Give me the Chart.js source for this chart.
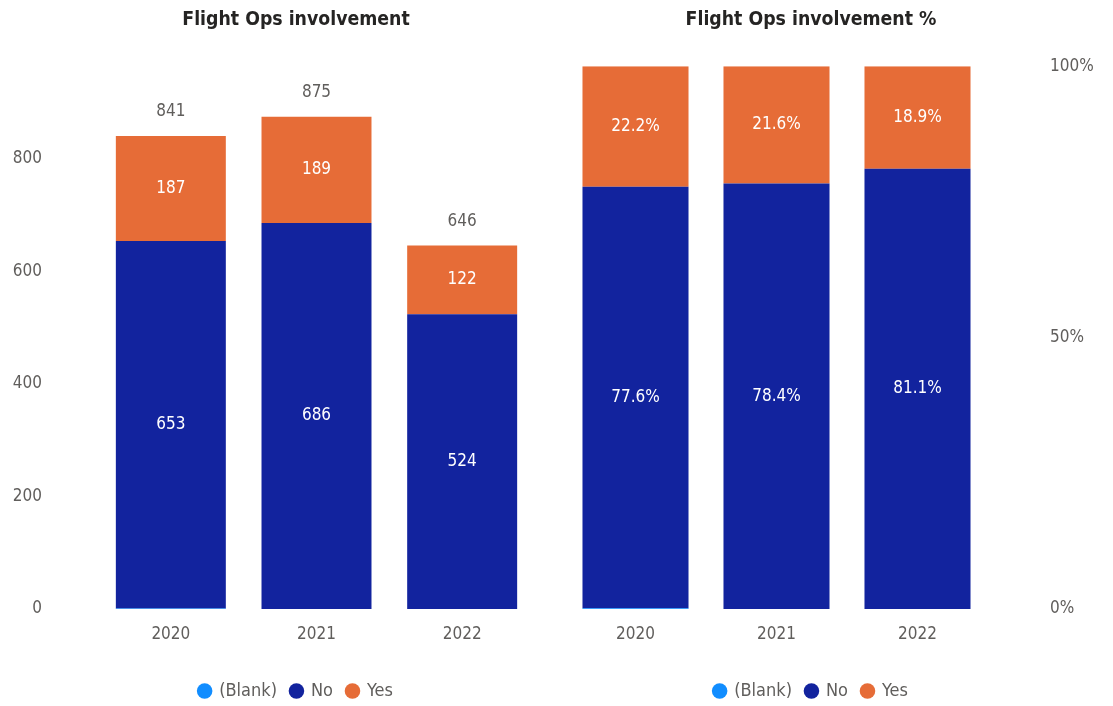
<!DOCTYPE html>
<html>
<head>
<meta charset="utf-8">
<script src="https://cdn.jsdelivr.net/npm/chart.js@4.4.1/dist/chart.umd.min.js"></script>
<style>
  body { margin: 0; background: #fff; width: 1113px; height: 706px; overflow: hidden; }
  .box { position: absolute; top: 0; height: 706px; }
  #left { left: 0; width: 592px; }
  #right { left: 509px; width: 604px; }
</style>
</head>
<body>
<div class="box" id="left"><canvas id="graficoCantidad"></canvas></div>
<div class="box" id="right"><canvas id="graficoPorcentaje"></canvas></div>
<script>
// Datos
const years = ["2020", "2021", "2022"];
const blankCounts = [1, 0, 0];
const noCounts = [653, 686, 524];
const yesCounts = [187, 189, 122];
const countTicks = [0, 200, 400, 600, 800];
const percentTicks = [0, 50, 100];

const FONT = "'DejaVu Sans Condensed', 'Liberation Sans Narrow', sans-serif";
const GREY = "#605E5C";
const colBlank = "#118DFF";
const colNo = "#12239E";
const colYes = "#E66C37";

// Totales por anio
const totals = years.map((y, i) => blankCounts[i] + noCounts[i] + yesCounts[i]);
const pct = (arr) => arr.map((v, i) => (v / totals[i]) * 100);

// Plugin sencillo para las etiquetas de datos
const etiquetas = {
  id: "etiquetas",
  afterDatasetsDraw(chart, args, opts) {
    const ctx = chart.ctx;
    ctx.save();
    ctx.font = "17px " + FONT;
    ctx.textAlign = "center";
    ctx.textBaseline = "middle";
    chart.data.datasets.forEach((ds, di) => {
      if (ds.label === "(Blank)") return;
      const meta = chart.getDatasetMeta(di);
      meta.data.forEach((bar, i) => {
        const v = ds.data[i];
        const txt = opts.percent ? v.toFixed(1) + "%" : String(v);
        ctx.fillStyle = "#ffffff";
        ctx.fillText(txt, bar.x, (bar.y + bar.base) / 2);
      });
    });
    if (opts.totals) {
      const top = chart.getDatasetMeta(chart.data.datasets.length - 1);
      top.data.forEach((bar, i) => {
        ctx.fillStyle = GREY;
        ctx.fillText(String(totals[i]), bar.x, bar.y - 24);
      });
    }
    ctx.restore();
  },
};

function opciones(titulo, percent) {
  return {
    responsive: true,
    maintainAspectRatio: false,
    animation: false,
    layout: { padding: { left: 0, right: 0, top: 0, bottom: -4 } },
    plugins: {
      title: {
        display: true,
        text: titulo,
        color: "#252423",
        font: { family: FONT, size: 19.3, weight: "bold" },
        padding: { top: 8, bottom: 35 },
      },
      legend: {
        position: "bottom",
        labels: {
          usePointStyle: true,
          pointStyle: "circle",
          boxWidth: 11,
          boxHeight: 11,
          padding: 14,
          color: GREY,
          font: { family: FONT, size: 18 },
        },
      },
      tooltip: { enabled: false },
      etiquetas: { percent: percent, totals: !percent },
    },
    scales: {
      x: {
        stacked: true,
        grid: { display: false },
        border: { display: false },
        ticks: { color: GREY, padding: 7, font: { family: FONT, size: 17 } },
        afterFit(scale) { scale.height = 59; },
      },
      y: {
        stacked: true,
        position: percent ? "right" : "left",
        min: 0,
        max: percent ? 100 : 965,
        grid: { display: false },
        border: { display: false },
        afterBuildTicks(scale) {
          scale.ticks = (percent ? percentTicks : countTicks).map((v) => ({ value: v }));
        },
        ticks: {
          color: GREY,
          padding: percent ? 54 : 48,
          font: { family: FONT, size: 17 },
          callback: (v) => (percent ? v + "%" : v),
        },
        afterFit(scale) {
          scale.width = percent ? 125 : 98;
          scale.paddingTop = 0;
          scale.paddingBottom = 0;
        },
      },
      // eje vacio solo para dejar margen al otro lado
      margen: {
        type: "linear",
        position: percent ? "left" : "right",
        grid: { display: false },
        border: { display: false },
        ticks: { display: false },
        afterFit(scale) { scale.width = percent ? 56 : 57; },
      },
    },
  };
}

function datasets(blank, no, yes, bp) {
  return [
    { label: "(Blank)", data: blank, backgroundColor: colBlank, barPercentage: bp, categoryPercentage: 1 },
    { label: "No", data: no, backgroundColor: colNo, barPercentage: bp, categoryPercentage: 1 },
    { label: "Yes", data: yes, backgroundColor: colYes, barPercentage: bp, categoryPercentage: 1 },
  ];
}

// Grafico de cantidades
new Chart(document.getElementById("graficoCantidad"), {
  type: "bar",
  data: { labels: years, datasets: datasets(blankCounts, noCounts, yesCounts, 0.755) },
  options: opciones("Flight Ops involvement", false),
  plugins: [etiquetas],
});

// Grafico de porcentajes
new Chart(document.getElementById("graficoPorcentaje"), {
  type: "bar",
  data: { labels: years, datasets: datasets(pct(blankCounts), pct(noCounts), pct(yesCounts), 0.752) },
  options: opciones("Flight Ops involvement %", true),
  plugins: [etiquetas],
});
</script>
</body>
</html>
